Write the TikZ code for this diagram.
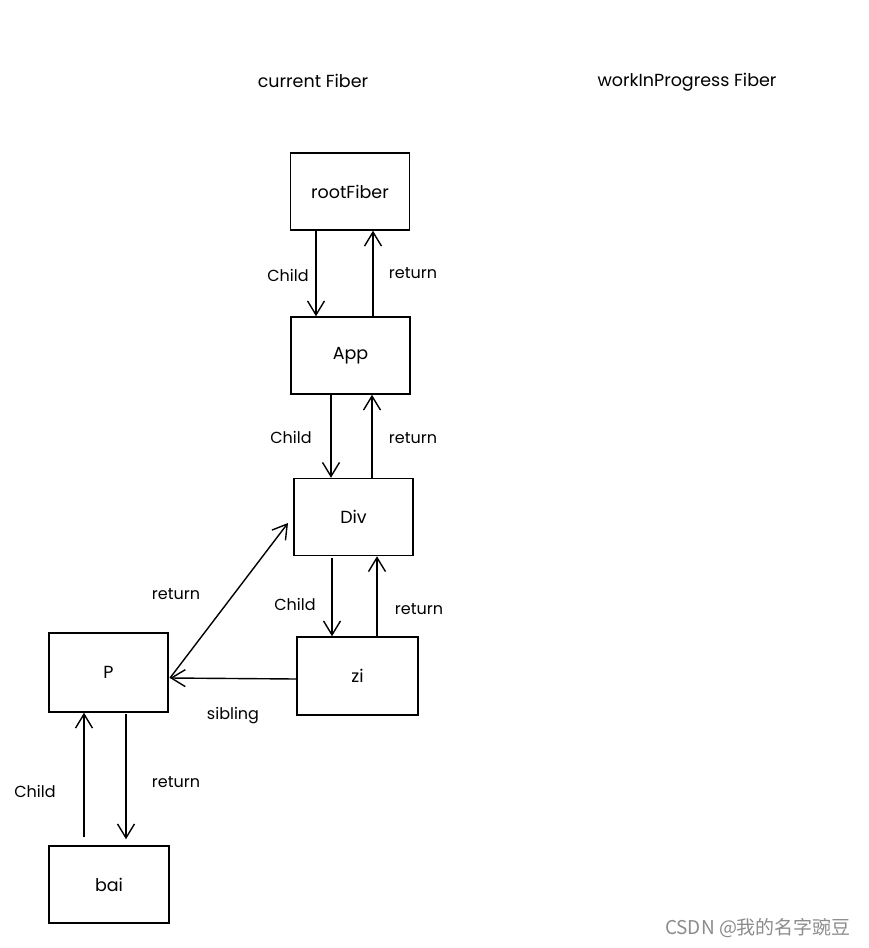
\documentclass[tikz,border=0pt]{standalone}
\usepackage{fontspec}
\setmainfont{Poppins}
\newfontfamily\cjk{Noto Sans CJK SC}
\usetikzlibrary{arrows.meta}
\begin{document}
\begin{tikzpicture}[x=1pt,y=-1pt,
  fiber/.style={draw, line width=1.5pt, minimum width=119pt, minimum height=77pt, inner sep=0pt, font=\fontsize{17.5}{19}\selectfont},
  link/.style={draw, line width=1.4pt, -{Straight Barb[length=14pt,width=17pt,line width=1.4pt]}},
  lbl/.style={font=\fontsize{16}{18}\selectfont, inner sep=0pt},
  head/.style={font=\fontsize{17.5}{19}\selectfont, inner sep=0pt}]
\useasboundingbox[fill=white] (0,0) rectangle (869,948);
\node[head] (h1) at (313,81) {current Fiber};
\node[head] (h2) at (687,82) {workInProgress Fiber};
\node[fiber] (root) at (350,191.5) {rootFiber};
\node[fiber] (app) at (350.5,355.5) {App};
\node[fiber] (div) at (353.5,517) {Div};
\node[fiber, minimum width=121pt, minimum height=78pt] (zi) at (357.5,676) {zi};
\node[fiber, minimum height=79pt] (p) at (108.5,672.5) {P};
\node[fiber, minimum width=120pt] (bai) at (109,884.5) {bai};
% rootFiber <-> App
\draw[link] (root.south -| 316,0) -- (app.north -| 316,0);
\draw[link] (app.north -| 373,0) -- (root.south -| 373,0);
\node[lbl] (c1) at (288,275) {Child};
\node[lbl] (r1) at (413,273) {return};
% App <-> Div
\draw[link] (app.south -| 331,0) -- (div.north -| 331,0);
\draw[link] (div.north -| 372,0) -- (app.south -| 372,0);
\node[lbl] (c2) at (291,437) {Child};
\node[lbl] (r2) at (413,438) {return};
% Div <-> zi
\draw[link] ([yshift=-2pt]div.south -| 332,0) -- (zi.north -| 332,0);
\draw[link] (zi.north -| 377,0) -- (div.south -| 377,0);
\node[lbl] (c3) at (295,604) {Child};
\node[lbl] (r3) at (419,609) {return};
% zi -> P sibling
\coordinate (pin) at (170,678);
\draw[link] (zi.west |- 0,679) -- (pin);
\node[lbl] (s1) at (233,716) {sibling};
% P -> Div return
\draw[link] (pin) -- (288,523);
\node[lbl] (r4) at (176,594) {return};
% bai <-> P
\draw[link] ([yshift=8pt]bai.north -| 84,0) -- (p.south -| 84,0);
\draw[link] ([yshift=-1pt]p.south -| 126,0) -- ([yshift=6pt]bai.north -| 126,0);
\node[lbl] (c4) at (35,791) {Child};
\node[lbl] (r5) at (176,782) {return};
% watermark
\node[font=\cjk\fontsize{19}{21}\selectfont, text=black!45, inner sep=0pt] (wm) at (758,928) {CSDN @我的名字豌豆};
\end{tikzpicture}
\end{document}
